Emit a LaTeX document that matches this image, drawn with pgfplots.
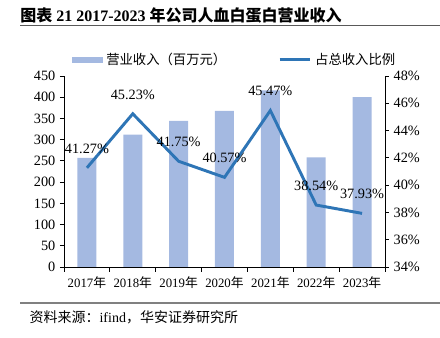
\documentclass[border=0pt]{standalone}
\usepackage{pgfplots}
\pgfplotsset{compat=1.18}
\usepackage{fontspec}
\setmainfont{Liberation Serif}
\newfontfamily\cjk{Noto Sans CJK SC}
\definecolor{barc}{RGB}{164,185,225}
\definecolor{linec}{RGB}{46,117,182}
\begin{document}
\begin{tikzpicture}
\path[use as bounding box] (0,0) rectangle (330pt,253.5pt);
% title
\node[anchor=west,inner sep=0pt] at (15pt,241.5pt) {\fontsize{12}{12}\selectfont\bfseries{\cjk\bfseries 图表} 21 2017-2023 {\cjk\bfseries 年公司人血白蛋白营业收入}};
\draw[gray!70!black,line width=0.8pt] (15pt,234.5pt) -- (330pt,234.5pt);
\draw[gray,line width=1pt] (15pt,26.25pt) -- (330pt,26.25pt);
\node[anchor=west,inner sep=0pt] at (22pt,15.75pt) {\fontsize{10.5}{10.5}\selectfont{\cjk 资料来源：}ifind{\cjk ，华安证券研究所}};
\begin{axis}[
  at={(48pt,53.25pt)}, anchor=south west,
  scale only axis, width=240.75pt, height=143.25pt,
  xmin=-0.5, xmax=6.5, ymin=0, ymax=450,
  axis y line*=left, axis x line*=bottom,
  xtick={0,...,6},
  xticklabels={2017{\cjk 年},2018{\cjk 年},2019{\cjk 年},2020{\cjk 年},2021{\cjk 年},2022{\cjk 年},2023{\cjk 年}},
  minor xtick={-0.5,0.5,...,6.5},
  major x tick style={draw=none},
  minor tick length=3.5pt,
  ytick={0,50,...,450},
  tick align=outside, major tick length=3pt,
  tick style={black,line width=0.6pt},
  axis line style={black,line width=0.6pt},
  x tick label style={font=\fontsize{9.6}{9.6}\selectfont, yshift=-1pt},
  y tick label style={font=\fontsize{10.7}{10.7}\selectfont},
  /pgf/number format/assume math mode=true,
  ybar, bar width=14.25pt,
]
\addplot[fill=barc, draw=none] coordinates {(0,257) (1,312) (2,344) (3,368) (4,416) (5,258) (6,400)};
\end{axis}
\begin{axis}[
  at={(48pt,53.25pt)}, anchor=south west,
  scale only axis, width=240.75pt, height=143.25pt,
  xmin=-0.5, xmax=6.5, ymin=34, ymax=48,
  axis y line*=right, axis x line=none,
  ytick={34,36,...,48},
  yticklabel={\pgfmathprintnumber{\tick}\%},
  tick align=outside, major tick length=3pt,
  tick style={black,line width=0.6pt},
  axis line style={black,line width=0.6pt},
  y tick label style={font=\fontsize{10.7}{10.7}\selectfont},
  /pgf/number format/assume math mode=true,
  legend style={at={(0.53,1)}, anchor=south, yshift=6pt, draw=none, fill=none,
    font=\cjk\fontsize{10}{10}\selectfont, column sep=2pt, inner sep=0pt,
    nodes={inner sep=1pt},
    /tikz/every even column/.append style={column sep=38pt}},
  legend columns=2,
  legend cell align=left,
]
\addlegendimage{area legend, legend image code/.code={\fill[barc] (0pt,-2pt) rectangle (22.5pt,2pt);}}
\addlegendentry{营业收入（百万元）}
\addplot[linec, line width=2.2pt, point meta=explicit symbolic,
  nodes near coords={\pgfplotspointmeta\%},
  every node near coord/.style={anchor=center, yshift=14.5pt, black, font=\fontsize{10.7}{10.7}\selectfont},
  legend image code/.code={\draw[linec,line width=2.2pt] (0pt,0pt) -- (22.5pt,0pt);}]
 coordinates {(0,41.27)[41.27] (1,45.23)[45.23] (2,41.75)[41.75] (3,40.57)[40.57] (4,45.47)[45.47] (5,38.54)[38.54] (6,37.93)[37.93]};
\addlegendentry{占总收入比例}
\end{axis}
\end{tikzpicture}
\end{document}
